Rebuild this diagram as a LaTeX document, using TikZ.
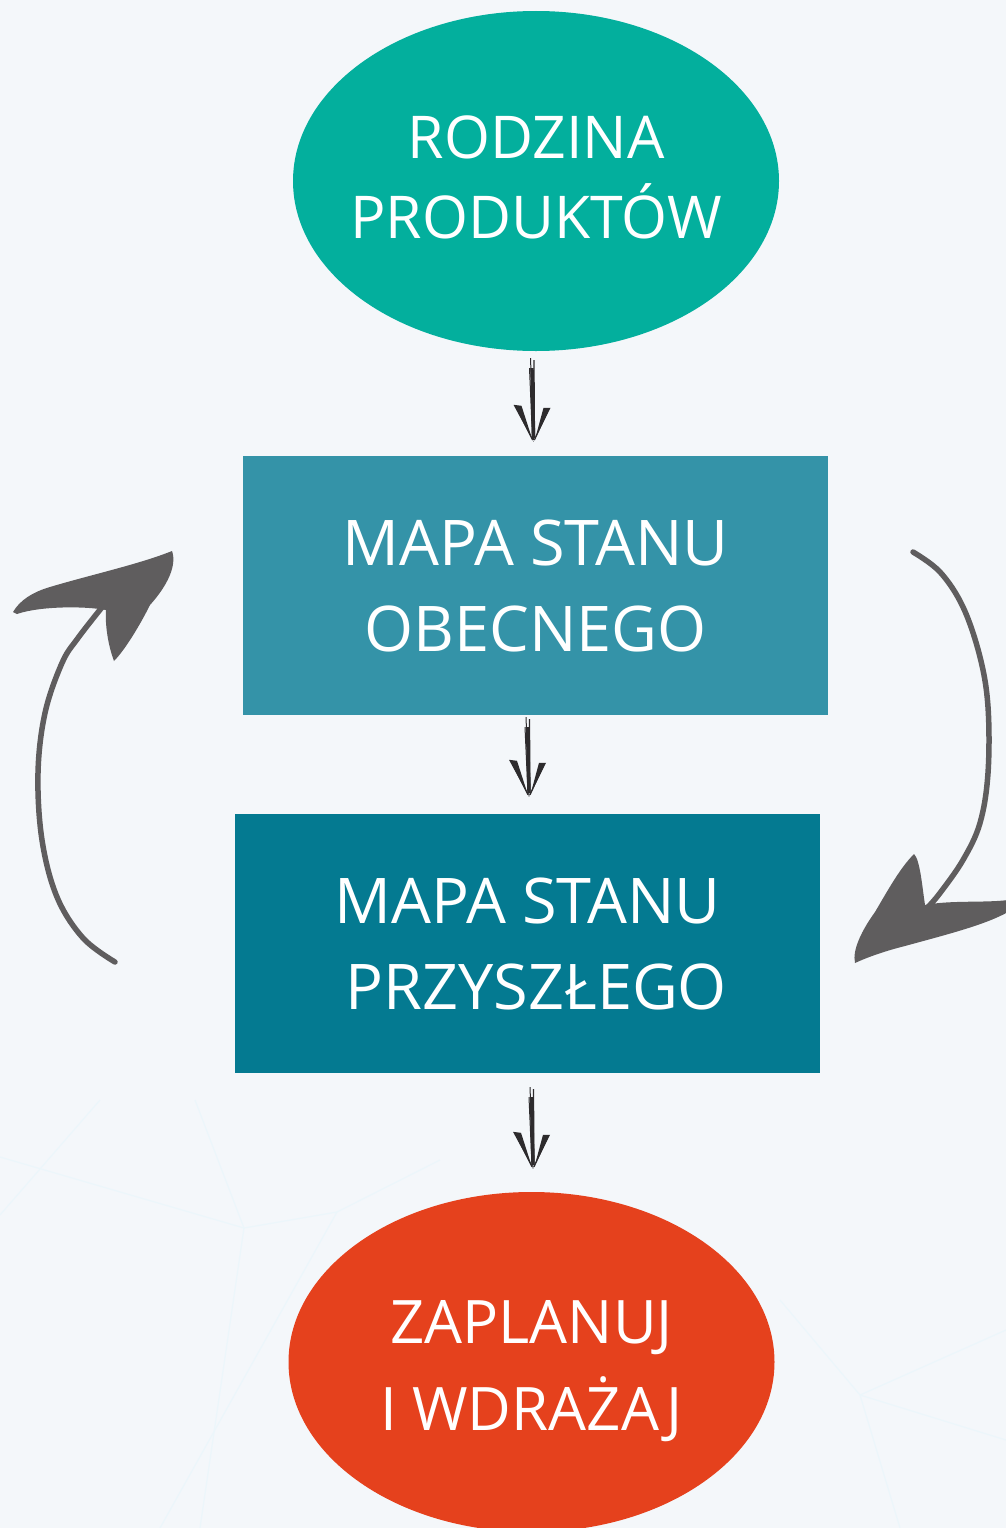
\documentclass[tikz,border=0pt]{standalone}
\usepackage{fontspec}
\setmainfont{Open Sans}
\usetikzlibrary{shapes.geometric,calc}
\definecolor{bg}{RGB}{244,247,250}
\definecolor{tealA}{RGB}{3,175,157}
\definecolor{boxA}{RGB}{52,147,168}
\definecolor{boxB}{RGB}{4,122,145}
\definecolor{redA}{RGB}{229,65,29}
\definecolor{arrowgray}{RGB}{95,93,94}
\definecolor{ink}{RGB}{45,43,45}
\definecolor{netline}{RGB}{236,246,250}
\newcommand\sketchdown[2]{%
  \draw[ink,line width=1pt] ($(#1)+(-1.5,0)$) -- ($(#2)+(0,-2)$);
  \draw[ink,line width=3.4pt] ($(#1)+(0,10)$) -- ($(#2)+(0,-4)$);
  \draw[ink,line width=1.2pt] ($(#1)+(2,2)$) -- ($(#2)+(1,-4)$);
  \draw[ink,line width=1pt] ($(#1)+(-2.5,10)$) -- ($(#2)+(-1,-3)$);
  \fill[ink] (#2) -- ($(#2)+(-20,-37)$) -- ($(#2)+(-12,-36)$) -- ($(#2)+(-3,-8)$) -- cycle;
  \fill[ink] (#2) -- ($(#2)+(17,-34)$) -- ($(#2)+(10,-34)$) -- ($(#2)+(3,-8)$) -- cycle;
  \draw[ink,line width=1.2pt] ($(#2)+(-16,-32)$) -- ($(#2)+(-1,-2)$);
  \draw[ink,line width=1.2pt] ($(#2)+(14,-30)$) -- ($(#2)+(1,-2)$);
}
\begin{document}
\begin{tikzpicture}[x=1pt,y=-1pt,
  ell/.style={ellipse,minimum width=486pt,minimum height=340pt,inner sep=0pt},
  boxnode/.style={rectangle,minimum width=585pt,minimum height=259pt,inner sep=0pt,text=white,align=center},
  txt/.style={text=white,align=center,inner sep=0pt},
  ellfont/.style={font=\fontsize{59}{80}\selectfont},
  ellfontB/.style={font=\fontsize{60}{87}\selectfont},
  boxfont/.style={font=\fontsize{63}{86}\selectfont},
  curvearrow/.style={draw=arrowgray,line width=5.5pt,line cap=round,line join=round},
  net/.style={draw=netline,line width=1.2pt}]
\useasboundingbox (0,0) rectangle (1006,1528);
\clip (0,0) rectangle (1006,1528);
\fill[bg] (0,0) rectangle (1006,1528);

% faint background network
\draw[net] (0,1157) -- (244,1228) -- (337,1212) -- (440,1160);
\draw[net] (244,1228) -- (200,1528);
\draw[net] (337,1212) -- (160,1528);
\draw[net] (244,1228) -- (195,1100);
\draw[net] (0,1215) -- (100,1100);
\draw[net] (860,1395) -- (1006,1330);
\draw[net] (860,1395) -- (780,1300);
\draw[net] (860,1395) -- (1006,1440);
\draw[net] (860,1395) -- (900,1528);

\node[ell,fill=tealA] (e1) at (536,181) {};
\node[txt,ellfont] (e1t) at ([yshift=4pt]e1.center) {RODZINA\\PRODUKTÓW};
\node[boxnode,boxfont,fill=boxA] (b1) at (535.5,585.5) {MAPA STANU\\OBECNEGO};
\node[boxnode,boxfont,fill=boxB] (b2) at (527.5,943.5) {MAPA STANU\\\;PRZYSZŁEGO};
\node[ell,fill=redA] (e2) at (531.5,1362) {};
\node[txt,ellfontB] (e2t) at ([yshift=-9pt]e2.center) {ZAPLANUJ\\I WDRAŻAJ};

% sketchy down arrows
\coordinate (a1s) at ($(e1.south)+(-4,7)$);
\coordinate (a1e) at ($(b1.north)+(-2,-14)$);
\coordinate (a2s) at ($(b1.south)+(-8,2)$);
\coordinate (a2e) at ($(b2.north)+(1.5,-17)$);
\coordinate (a3s) at ($(b2.south)+(4,14)$);
\coordinate (a3e) at ($(e2.north)+(1.5,-23)$);
\sketchdown{a1s}{a1e}
\sketchdown{a2s}{a2e}
\sketchdown{a3s}{a3e}

% left curved arrow (up)
\coordinate (L0) at (115,962);
\coordinate (L1) at (103,606);
\draw[curvearrow] plot[smooth,tension=0.6] coordinates {(L0) (83,938) (57,897) (42,840) (38,773) (45,713) (62,663) (78,638) (L1)};
\fill[arrowgray] (13,612) .. controls (20,600) and (33,592) .. (50,587)
  .. controls (90,575) and (140,564) .. (172,551)
  .. controls (177,565) and (168,585) .. (150,605)
  .. controls (140,625) and (125,650) .. (114,661)
  .. controls (108,645) and (105,625) .. (106,610)
  .. controls (85,606) and (40,606) .. (17,614) -- cycle;

% right curved arrow (down)
\coordinate (R0) at (913,552);
\coordinate (R1) at (928,907);
\draw[curvearrow] plot[smooth,tension=0.6] coordinates {(R0) (940,572) (963,607) (980,657) (988,707) (988,773) (980,823) (963,860) (940,893) (R1)};
\fill[arrowgray] (855,963) .. controls (852,950) and (862,930) .. (875,912)
  .. controls (888,890) and (900,868) .. (914,854)
  .. controls (920,860) and (922,885) .. (925,905)
  .. controls (950,900) and (985,903) .. (1008,900)
  -- (1008,912) .. controls (985,925) and (945,935) .. (905,946)
  .. controls (885,951) and (868,957) .. (855,963) -- cycle;
\end{tikzpicture}
\end{document}
